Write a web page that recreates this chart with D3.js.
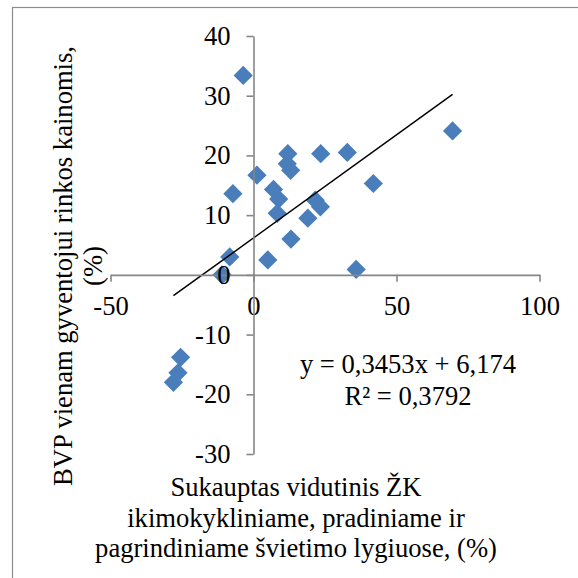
<!DOCTYPE html>
<html>
<head>
<meta charset="utf-8">
<script src="https://cdn.jsdelivr.net/npm/d3@7"></script>
<style>
  html, body { margin: 0; padding: 0; background: #fff; }
  svg { display: block; }
  text { font-family: "Liberation Serif", "Times New Roman", serif; fill: #000; }
</style>
</head>
<body>
<svg id="chart" width="578" height="578"></svg>
<script>
// Accumulated average human capital change (%) vs GDP per capita change (%)
const xValues = [-3.6, 69.6, 12.0, 23.5, 32.8, 11.8, 13.0, 1.2, 41.9, 7.0, -7.2, 8.8,
                 21.6, 23.4, 8.3, 19.0, 13.1, -8.3, 5.0, 35.9, -11.0, -25.5, -26.4, -28.0];
const yValues = [33.4, 24.1, 20.3, 20.3, 20.5, 18.6, 17.5, 16.7, 15.3, 14.3, 13.6, 12.7,
                 12.5, 11.4, 10.3, 9.5, 6.0, 3.0, 2.5, 0.9, 0.0, -13.8, -16.4, -18.0];

// Linear trend fitted to the series
const trendSlope = 0.3453;
const trendIntercept = 6.174;
const equationLines = ["y = 0,3453x + 6,174", "R² = 0,3792"];

const xTicks = [-50, 0, 50, 100];
const yTicks = [-30, -20, -10, 0, 10, 20, 30, 40];
const xTitleLines = ["Sukauptas vidutinis ŽK", "ikimokykliniame, pradiniame ir",
                     "pagrindiniame švietimo lygiuose, (%)"];
const yTitleLines = ["BVP vienam gyventojui rinkos kainomis,", "(%)"];

const svg = d3.select("#chart");
const serif = '"Liberation Serif", "Times New Roman", serif';
const axisColor = "#868686";
const markColor = "#4a7ebb";
const fontSize = 26.6;

// Chart frame (continues past the right and bottom edges)
svg.append("rect")
  .attr("x", 12.5).attr("y", 7.5)
  .attr("width", 620).attr("height", 620)
  .attr("fill", "none")
  .attr("stroke", "#8c8c8c")
  .attr("stroke-width", 1.2);

const x = d3.scaleLinear().domain([-50, 100]).range([110.5, 539.5]);
const y = d3.scaleLinear().domain([-30, 40]).range([454, 36]);

// Axes cross at the origin
const xAxis = svg.append("g")
  .attr("transform", `translate(0,${y(0)})`)
  .call(d3.axisBottom(x).tickValues(xTicks).tickFormat(d => String(d))
    .tickSize(7).tickSizeOuter(0).tickPadding(14));
const yAxis = svg.append("g")
  .attr("transform", `translate(${x(0)},0)`)
  .call(d3.axisLeft(y).tickValues(yTicks).tickFormat(d => String(d))
    .tickSize(7).tickSizeOuter(0).tickPadding(16));

[xAxis, yAxis].forEach(g => {
  g.attr("font-family", null).attr("font-size", null);
  g.select(".domain").attr("stroke", axisColor).attr("stroke-width", 1.6);
  g.selectAll(".tick line").attr("stroke", axisColor).attr("stroke-width", 1.6);
  g.selectAll(".tick text")
    .style("font-family", serif)
    .style("font-size", fontSize + "px")
    .attr("fill", "#000");
});

// Data points as diamonds
const points = xValues.map((v, i) => ({ x: v, y: yValues[i] }));
const diamond = d3.symbol().type(d3.symbolSquare).size(185);
svg.append("g")
  .selectAll("path")
  .data(points)
  .join("path")
  .attr("d", diamond)
  .attr("transform", d => `translate(${x(d.x)},${y(d.y)}) rotate(45)`)
  .attr("fill", markColor);

// Trend line over the span of the data
const xMin = d3.min(xValues), xMax = d3.max(xValues);
svg.append("line")
  .attr("x1", x(xMin)).attr("y1", y(trendSlope * xMin + trendIntercept))
  .attr("x2", x(xMax)).attr("y2", y(trendSlope * xMax + trendIntercept))
  .attr("stroke", "#000")
  .attr("stroke-width", 1.5);

// Keep tick labels above the markers
xAxis.raise();
yAxis.raise();

// Trend equation
svg.append("text")
  .attr("x", 408).attr("y", 373)
  .attr("text-anchor", "middle")
  .style("font-size", fontSize + "px")
  .selectAll("tspan")
  .data(equationLines)
  .join("tspan")
  .attr("x", 408)
  .attr("dy", (d, i) => i === 0 ? 0 : 32)
  .text(d => d);

// X axis title
svg.append("text")
  .attr("text-anchor", "middle")
  .style("font-size", fontSize + "px")
  .selectAll("tspan")
  .data(xTitleLines)
  .join("tspan")
  .attr("x", 296)
  .attr("y", (d, i) => 496 + i * 30.5)
  .text(d => d);

// Y axis title (rotated)
svg.append("text")
  .attr("transform", "translate(0,266) rotate(-90)")
  .attr("text-anchor", "middle")
  .style("font-size", fontSize + "px")
  .selectAll("tspan")
  .data(yTitleLines)
  .join("tspan")
  .attr("x", 0)
  .attr("y", (d, i) => 72 + i * 30)
  .text(d => d);
</script>
</body>
</html>
